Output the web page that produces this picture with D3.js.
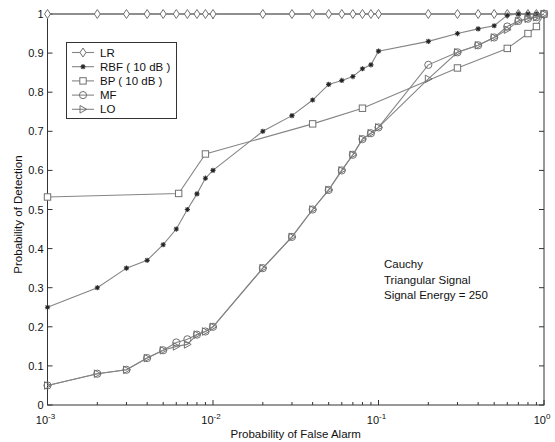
<!DOCTYPE html>
<html>
<head>
<meta charset="utf-8">
<script src="https://cdn.jsdelivr.net/npm/d3@7"></script>
<style>
  body { margin: 0; background: #fff; }
  svg { font-family: "Liberation Sans", Arial, sans-serif; }
</style>
</head>
<body>
<svg id="chart" width="555" height="442"></svg>
<script>
// x grid of false alarm probabilities
var pfa = [0.001,0.002,0.003,0.004,0.005,0.006,0.007,0.008,0.009,0.01,
           0.02,0.03,0.04,0.05,0.06,0.07,0.08,0.09,0.1,
           0.2,0.3,0.4,0.5,0.6,0.7,0.8,0.9,1];

var lrPd  = [1,1,1,1,1,1,1,1,1,1, 1,1,1,1,1,1,1,1,1, 1,1,1,1,1,1,1,1,1];
var rbfPd = [0.25,0.30,0.35,0.37,0.41,0.45,0.50,0.54,0.58,0.60,
             0.70,0.74,0.78,0.82,0.83,0.84,0.86,0.87,0.905,
             0.93,0.95,0.962,0.97,0.997,1,1,1,1];
var mfPd  = [0.05,0.08,0.09,0.12,0.14,0.16,0.168,0.18,0.188,0.20,
             0.35,0.43,0.50,0.55,0.60,0.64,0.68,0.695,0.71,
             0.87,0.902,0.92,0.94,0.968,0.982,0.988,0.992,1];
var loPd  = [0.05,0.08,0.09,0.12,0.14,0.15,0.155,0.18,0.188,0.20,
             0.35,0.43,0.50,0.55,0.60,0.64,0.68,0.695,0.71,
             0.834,0.902,0.92,0.94,0.96,0.982,0.988,0.992,1];

// BP is sampled on its own sparse grid
var bpPfa = [0.001,0.0062,0.009,0.04,0.08,0.3,0.6,0.8,0.9,1];
var bpPd  = [0.532,0.541,0.642,0.719,0.759,0.862,0.912,0.95,0.968,1];

var seriesNames = ["LR","RBF ( 10 dB )","BP ( 10 dB )","MF","LO"];
var noteLines = ["Cauchy","Triangular Signal","Signal Energy = 250"];

var series = [
  {name: seriesNames[0], xs: pfa,   ys: lrPd,  sym: "diamond"},
  {name: seriesNames[1], xs: pfa,   ys: rbfPd, sym: "star"},
  {name: seriesNames[2], xs: bpPfa, ys: bpPd,  sym: "square"},
  {name: seriesNames[3], xs: pfa,   ys: mfPd,  sym: "circle"},
  {name: seriesNames[4], xs: pfa,   ys: loPd,  sym: "triangle"}
];

var svg = d3.select("#chart");
var pL = 47.5, pR = 544, pT = 14, pB = 405;

var x = d3.scaleLog().domain([1e-3, 1]).range([pL, pR]);
var y = d3.scaleLinear().domain([0, 1]).range([pB, pT]);

var lineCol = "#858585", markCol = "#707070";

// frame
svg.append("rect")
  .attr("x", pL).attr("y", pT)
  .attr("width", pR - pL).attr("height", pB - pT)
  .attr("fill", "none").attr("stroke", "#333").attr("stroke-width", 1);

// ticks, matlab style (inward, both sides)
var axes = svg.append("g").attr("stroke", "#333").attr("stroke-width", 1);
var yTicks = d3.range(0, 11).map(function(i) { return i / 10; });
yTicks.forEach(function(t) {
  axes.append("line").attr("x1", pL).attr("x2", pL + 5)
    .attr("y1", y(t)).attr("y2", y(t));
  axes.append("line").attr("x1", pR).attr("x2", pR - 5)
    .attr("y1", y(t)).attr("y2", y(t));
});
var xTicks = x.ticks();
xTicks.forEach(function(t) {
  var major = Math.abs(Math.log10(t) - Math.round(Math.log10(t))) < 1e-9;
  var len = major ? 5 : 3;
  axes.append("line").attr("x1", x(t)).attr("x2", x(t))
    .attr("y1", pB).attr("y2", pB - len);
  axes.append("line").attr("x1", x(t)).attr("x2", x(t))
    .attr("y1", pT).attr("y2", pT + len);
});

// y tick labels
svg.append("g").selectAll("text").data(yTicks).enter().append("text")
  .attr("x", pL - 4).attr("y", function(d) { return y(d) + 4; })
  .attr("text-anchor", "end").attr("font-size", 11).attr("fill", "#111")
  .text(function(d) { return d === 0 ? "0" : d === 1 ? "1" : d3.format(".1f")(d); });

// x tick labels 10^n
[-3, -2, -1, 0].forEach(function(e) {
  var t = svg.append("text")
    .attr("x", x(Math.pow(10, e)) - 2).attr("y", 424)
    .attr("text-anchor", "middle").attr("font-size", 11).attr("fill", "#111");
  t.append("tspan").text("10");
  t.append("tspan").attr("dy", -5).attr("font-size", 8).text(String(e));
});

// axis titles
svg.append("text")
  .attr("x", (pL + pR) / 2).attr("y", 438)
  .attr("text-anchor", "middle").attr("font-size", 11.5).attr("fill", "#111")
  .text("Probability of False Alarm");
svg.append("text")
  .attr("transform", "translate(22," + ((pT + pB) / 2 + 5) + ") rotate(-90)")
  .attr("text-anchor", "middle").attr("font-size", 11.5).attr("fill", "#111")
  .text("Probability of Detection");

function drawMarker(g, sym, cx, cy) {
  if (sym === "diamond") {
    g.append("path").attr("d", "M" + cx + "," + (cy - 4.5) + "L" + (cx + 3) + "," + cy +
      "L" + cx + "," + (cy + 4.5) + "L" + (cx - 3) + "," + cy + "Z")
      .attr("fill", "#fff").attr("stroke", markCol);
  } else if (sym === "square") {
    g.append("rect").attr("x", cx - 3.2).attr("y", cy - 3.2)
      .attr("width", 6.4).attr("height", 6.4)
      .attr("fill", "#fff").attr("stroke", markCol);
  } else if (sym === "circle") {
    g.append("circle").attr("cx", cx).attr("cy", cy).attr("r", 3.6)
      .attr("fill", "none").attr("stroke", markCol);
  } else if (sym === "triangle") {
    g.append("path").attr("d", "M" + (cx - 3) + "," + (cy - 3.8) + "L" + (cx + 3.8) + "," + cy +
      "L" + (cx - 3) + "," + (cy + 3.8) + "Z")
      .attr("fill", "none").attr("stroke", markCol);
  } else if (sym === "star") {
    g.append("path").attr("d",
      "M" + (cx - 2.6) + "," + cy + "L" + (cx + 2.6) + "," + cy +
      "M" + cx + "," + (cy - 2.6) + "L" + cx + "," + (cy + 2.6) +
      "M" + (cx - 1.9) + "," + (cy - 1.9) + "L" + (cx + 1.9) + "," + (cy + 1.9) +
      "M" + (cx - 1.9) + "," + (cy + 1.9) + "L" + (cx + 1.9) + "," + (cy - 1.9))
      .attr("stroke", "#333").attr("stroke-width", 1.1);
    g.append("circle").attr("cx", cx).attr("cy", cy).attr("r", 1.2).attr("fill", "#222");
  }
}

var line = d3.line()
  .x(function(d) { return x(d[0]); })
  .y(function(d) { return y(d[1]); });

series.forEach(function(s) {
  var pts = s.xs.map(function(v, i) { return [v, s.ys[i]]; });
  var g = svg.append("g");
  g.append("path").datum(pts).attr("d", line)
    .attr("fill", "none").attr("stroke", lineCol).attr("stroke-width", 1.1);
  pts.forEach(function(p) { drawMarker(g, s.sym, x(p[0]), y(p[1])); });
});

// legend
var leg = svg.append("g");
leg.append("rect").attr("x", 66.5).attr("y", 42.5).attr("width", 110).attr("height", 76)
  .attr("fill", "#fff").attr("stroke", "#333");
series.forEach(function(s, i) {
  var ly = 52.5 + i * 14.2;
  leg.append("line").attr("x1", 72).attr("x2", 94).attr("y1", ly).attr("y2", ly)
    .attr("stroke", lineCol).attr("stroke-width", 1.1);
  drawMarker(leg, s.sym, 83, ly);
  leg.append("text").attr("x", 100).attr("y", ly + 4)
    .attr("font-size", 11.5).attr("fill", "#111").text(s.name);
});

// annotation
noteLines.forEach(function(t, i) {
  svg.append("text").attr("x", 384).attr("y", 268 + i * 15.5)
    .attr("font-size", 11.5).attr("fill", "#111").text(t);
});
</script>
</body>
</html>
